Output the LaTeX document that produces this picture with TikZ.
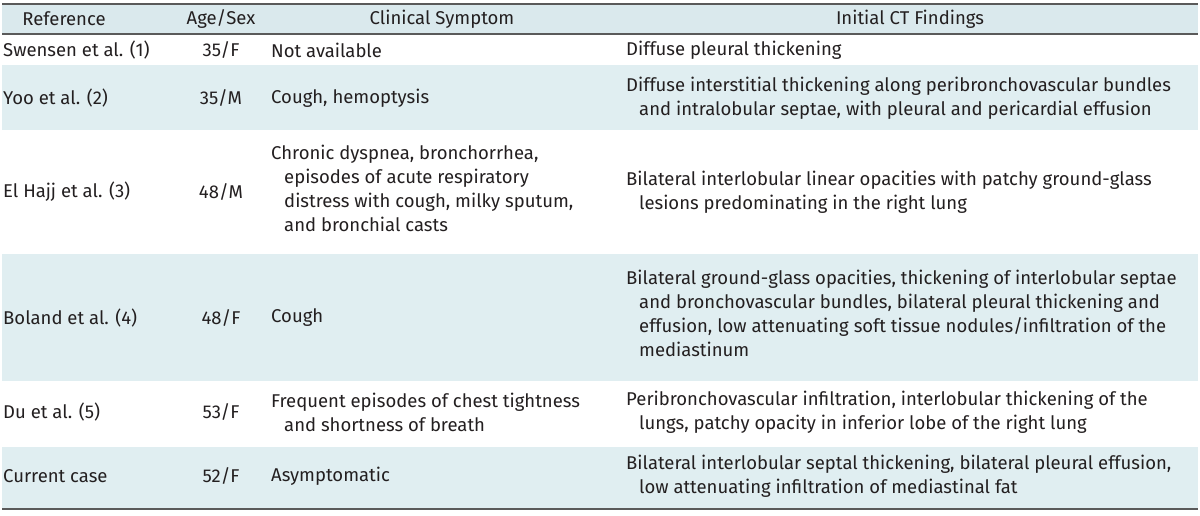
\documentclass[tikz,border=0pt]{standalone}
\usepackage{fontspec}
\setmainfont{Fira Sans}
\definecolor{band}{HTML}{E0EEF1}
\definecolor{hband}{HTML}{DAE9ED}
\definecolor{rule}{HTML}{5A5A5A}
\definecolor{txt}{HTML}{231F20}
\newcommand{\ind}{\hspace*{13pt}}
\begin{document}
\begin{tikzpicture}[x=1pt,y=-1pt,
  cell/.style={inner sep=0pt, align=left, anchor=west, text=txt, font=\fontsize{18.5}{24}\selectfont},
  ctr/.style={cell, anchor=center, align=center}]
\useasboundingbox (0,0) rectangle (1200,516);
\fill[white] (0,0) rectangle (1200,516);
% bands
\fill[hband] (2,4) rectangle (1198,34);
\fill[band] (2,65) rectangle (1198,130);
\fill[band] (2,254) rectangle (1198,381);
\fill[band] (2,447) rectangle (1198,509);
% rules
\draw[rule, line width=2pt] (2,4) -- (1198,4);
\draw[rule, line width=1.2pt] (2,34) -- (1198,34);
\draw[rule, line width=2pt] (2,509) -- (1198,509);
% header
\node[ctr] (h1) at (64,19) {Reference};
\node[ctr] (h2) at (221,19) {Age/Sex};
\node[ctr] (h3) at (442,19) {Clinical Symptom};
\node[ctr] (h4) at (910,19) {Initial CT Findings};
% row 1
\node[cell] (r1a) at (3,50) {Swensen et al. (1)};
\node[ctr] (r1b) at (221,50) {35/F};
\node[cell] (r1c) at (271,50) {Not available};
\node[cell] (r1d) at (626,50) {Diffuse pleural thickening};
% row 2
\node[cell] (r2a) at (3,98) {Yoo et al. (2)};
\node[ctr] (r2b) at (221,98) {35/M};
\node[cell] (r2c) at (271,98) {Cough, hemoptysis};
\node[cell] (r2d) at (626,98) {Diffuse interstitial thickening along peribronchovascular bundles\\\ind and intralobular septae, with pleural and pericardial effusion};
% row 3
\node[cell] (r3a) at (3,192) {El Hajj et al. (3)};
\node[ctr] (r3b) at (221,192) {48/M};
\node[cell] (r3c) at (271,188) {Chronic dyspnea, bronchorrhea,\\\ind episodes of acute respiratory\\\ind distress with cough, milky sputum,\\\ind and bronchial casts};
\node[cell] (r3d) at (626,192) {Bilateral interlobular linear opacities with patchy ground-glass\\\ind lesions predominating in the right lung};
% row 4
\node[cell] (r4a) at (3,318) {Boland et al. (4)};
\node[ctr] (r4b) at (221,318) {48/F};
\node[cell] (r4c) at (271,318) {Cough};
\node[cell] (r4d) at (626,313) {Bilateral ground-glass opacities, thickening of interlobular septae\\\ind and bronchovascular bundles, bilateral pleural thickening and\\\ind effusion, low attenuating soft tissue nodules/infiltration of the\\\ind mediastinum};
% row 5
\node[cell] (r5a) at (3,412) {Du et al. (5)};
\node[ctr] (r5b) at (221,412) {53/F};
\node[cell] (r5c) at (271,412) {Frequent episodes of chest tightness\\\ind and shortness of breath};
\node[cell] (r5d) at (626,412) {Peribronchovascular infiltration, interlobular thickening of the\\\ind lungs, patchy opacity in inferior lobe of the right lung};
% row 6
\node[cell] (r6a) at (3,476) {Current case};
\node[ctr] (r6b) at (221,476) {52/F};
\node[cell] (r6c) at (271,476) {Asymptomatic};
\node[cell] (r6d) at (626,476) {Bilateral interlobular septal thickening, bilateral pleural effusion,\\\ind low attenuating infiltration of mediastinal fat};
\end{tikzpicture}
\end{document}
